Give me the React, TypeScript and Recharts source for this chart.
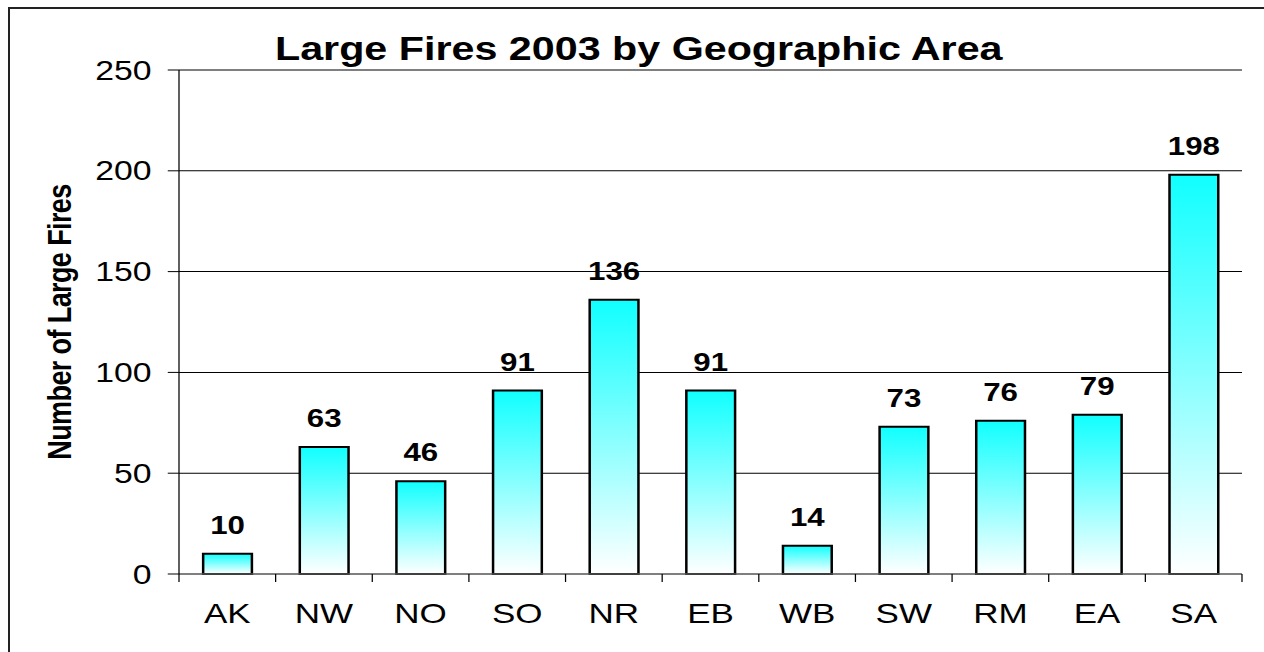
import { BarChart, Bar, XAxis, YAxis, CartesianGrid, LabelList } from 'recharts'

const areas = ['AK', 'NW', 'NO', 'SO', 'NR', 'EB', 'WB', 'SW', 'RM', 'EA', 'SA']
const largeFires = [10, 63, 46, 91, 136, 91, 14, 73, 76, 79, 198]
const yTicks = [0, 50, 100, 150, 200, 250]

const data = areas.map((area, i) => ({ area, fires: largeFires[i] }))

// the reference looks stretched sideways, so draw narrower and scale x
const STRETCH = 1.25
const W = 1264 / STRETCH
const H = 652
const Y_AXIS_W = 143.2
const RIGHT = 17.6
const STEP = (W - Y_AXIS_W - RIGHT) / areas.length
const X_TICK_SIZE = 8
const X_TICK_MARGIN = 21
const FONT = '"Liberation Sans", Arial, sans-serif'

const XTick = (props: any) => {
  const { x, y, payload, index } = props
  const axisY = y - X_TICK_SIZE - X_TICK_MARGIN
  const half = STEP / 2
  return (
    <g>
      <line x1={x - half} y1={axisY} x2={x - half} y2={axisY + X_TICK_SIZE} stroke="#000" />
      {index === areas.length - 1 && (
        <line x1={x + half} y1={axisY} x2={x + half} y2={axisY + X_TICK_SIZE} stroke="#000" />
      )}
      <text x={x} y={y} dy="0.71em" textAnchor="middle" fontSize={28} fill="#000" fontFamily={FONT}>
        {payload.value}
      </text>
    </g>
  )
}

const YLabel = (props: any) => {
  const vb = props.viewBox
  const cx = vb.x + 47
  const cy = vb.y + vb.height / 2
  return (
    <text x={cx} y={cy} transform={`rotate(-90 ${cx} ${cy})`} textAnchor="middle" dominantBaseline="central"
      fontSize={27} fontWeight="bold" fill="#000" fontFamily={FONT} letterSpacing={-0.6}>
      Number of Large Fires
    </text>
  )
}

export default function App() {
  return (
    <div style={{ position: 'absolute', left: 0, top: 0, width: 1264, height: 652, overflow: 'hidden', background: '#fff' }}>
      <div style={{ position: 'absolute', left: 8, top: 7, width: 2000, height: 2000, borderTop: '2px solid #222', borderLeft: '2px solid #222' }} />
      <div style={{ position: 'absolute', left: 0, top: 0, width: W, height: H, transform: `scaleX(${STRETCH})`, transformOrigin: '0 0', fontFamily: FONT }}>
        <div style={{ position: 'absolute', left: 0, top: 32, width: 1022, textAlign: 'center', fontSize: 33, fontWeight: 'bold', lineHeight: 1, color: '#000' }}>
          Large Fires 2003 by Geographic Area
        </div>
        <BarChart width={W} height={H} data={data} margin={{ top: 70, right: RIGHT, bottom: 0, left: 0 }} barCategoryGap="25%">
          <defs>
            <linearGradient id="fireGrad" x1="0" y1="0" x2="0" y2="1">
              <stop offset="0%" stopColor="#10FFFF" />
              <stop offset="100%" stopColor="#FFFFFF" />
            </linearGradient>
          </defs>
          <CartesianGrid vertical={false} stroke="#000" />
          <XAxis dataKey="area" height={78} tickSize={X_TICK_SIZE} tickMargin={X_TICK_MARGIN}
            axisLine={{ stroke: '#808080' }} tickLine={{ stroke: 'none' }} tick={<XTick />} interval={0} />
          <YAxis width={Y_AXIS_W} domain={[0, 250]} ticks={yTicks} tickSize={9} tickMargin={13}
            axisLine={{ stroke: '#000' }} tickLine={{ stroke: '#000' }}
            tick={{ fontSize: 27, fill: '#000', fontFamily: FONT }} label={<YLabel />} />
          <Bar dataKey="fires" fill="url(#fireGrad)" stroke="#000" strokeWidth={2} isAnimationActive={false}>
            <LabelList dataKey="fires" position="top" offset={20} fontSize={25} fontWeight="bold" fill="#000" fontFamily={FONT} />
          </Bar>
        </BarChart>
      </div>
    </div>
  )
}
